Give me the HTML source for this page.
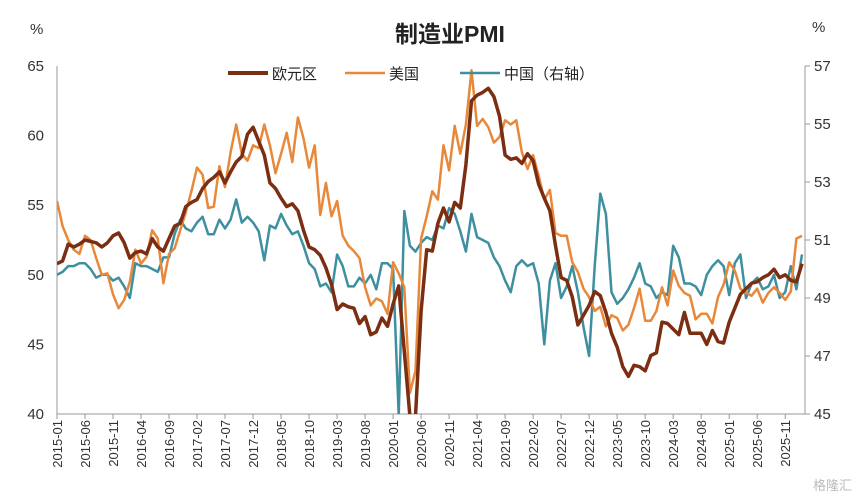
<!DOCTYPE html>
<html><head><meta charset="utf-8">
<style>
html,body{margin:0;padding:0;background:#fff;width:860px;height:498px;overflow:hidden;}
svg{display:block;font-family:"Liberation Sans","Noto Sans CJK SC",sans-serif;}
</style></head>
<body>
<svg id="chart" width="860" height="498" viewBox="0 0 860 498">
<defs><clipPath id="clip"><rect x="57" y="60" width="748" height="354"/></clipPath></defs>
<text x="450" y="42" text-anchor="middle" font-size="23" font-weight="bold" fill="#222">制造业PMI</text>
<text x="30" y="34" font-size="15" fill="#333">%</text>
<text x="812" y="32" font-size="15" fill="#333">%</text>
<g id="axes"></g>
<g id="series" clip-path="url(#clip)"></g>
<g id="legend">
<line x1="228" y1="73" x2="268" y2="73" stroke="#7B2E12" stroke-width="4"/>
<text x="272" y="79" font-size="15" fill="#222">欧元区</text>
<line x1="345" y1="73" x2="385" y2="73" stroke="#E8883A" stroke-width="2.5"/>
<text x="389" y="79" font-size="15" fill="#222">美国</text>
<line x1="460" y1="73" x2="500" y2="73" stroke="#3E8FA0" stroke-width="2.5"/>
<text x="504" y="79" font-size="15" fill="#222">中国（右轴）</text>
</g>
<text x="852" y="490" text-anchor="end" font-size="13" fill="#bbb">格隆汇</text>
</svg>
<script>
const startYear = 2015;
const leftTicks = [40,45,50,55,60,65];
const rightTicks = [45,47,49,51,53,55,57];
const eurozone = [50.8,51.0,52.2,52.0,52.2,52.5,52.4,52.3,52.0,52.3,52.8,53.0,
52.3,51.2,51.6,51.7,51.5,52.6,52.0,51.7,52.6,53.5,53.7,54.9,
55.2,55.4,56.2,56.7,57.0,57.4,56.6,57.4,58.1,58.5,60.1,60.6,
59.6,58.6,56.6,56.2,55.5,54.9,55.1,54.6,53.2,52.0,51.8,51.4,
50.5,49.3,47.5,47.9,47.7,47.6,46.5,47.0,45.7,45.9,46.9,46.3,
47.9,49.2,44.5,33.4,39.4,47.4,51.8,51.7,53.7,54.8,53.8,55.2,
54.8,57.9,62.5,62.9,63.1,63.4,62.8,61.4,58.6,58.3,58.4,58.0,
58.7,58.2,56.5,55.5,54.6,52.1,49.8,49.6,48.4,46.4,47.1,47.8,
48.8,48.5,47.3,45.8,44.8,43.4,42.7,43.5,43.4,43.1,44.2,44.4,
46.6,46.5,46.1,45.7,47.3,45.8,45.8,45.8,45.0,46.0,45.2,45.1,
46.6,47.6,48.6,49.0,49.4,49.5,49.8,50.0,50.4,49.8,50.0,49.6,
49.5,50.8];
const us = [55.3,53.5,52.5,51.8,51.5,52.8,52.5,51.2,50.0,50.1,48.6,47.6,
48.2,49.5,51.8,50.8,51.3,53.2,52.6,49.4,51.5,51.9,53.2,54.5,
56.0,57.7,57.2,54.8,54.9,57.8,56.3,58.8,60.8,58.7,58.2,59.3,
59.1,60.8,59.3,57.3,58.7,60.2,58.1,61.3,59.8,57.7,59.3,54.3,
56.6,54.2,55.3,52.8,52.1,51.7,51.2,49.1,47.8,48.3,48.1,47.2,
50.9,50.1,49.1,41.5,43.1,52.6,54.2,56.0,55.4,59.3,57.5,60.7,
58.7,60.8,64.7,60.7,61.2,60.6,59.5,59.9,61.1,60.8,61.1,58.8,
57.6,58.6,57.1,55.4,56.1,53.0,52.8,52.8,50.9,50.2,49.0,48.4,
47.4,47.7,46.3,47.1,46.9,46.0,46.4,47.6,49.0,46.7,46.7,47.4,
49.1,47.8,50.3,49.2,48.7,48.5,46.8,47.2,47.2,46.5,48.4,49.3,
50.9,50.3,49.0,48.7,48.5,49.0,48.0,48.7,49.1,48.7,48.2,48.8,
52.6,52.8];
const china = [49.8,49.9,50.1,50.1,50.2,50.2,50.0,49.7,49.8,49.8,49.6,49.7,
49.4,49.0,50.2,50.1,50.1,50.0,49.9,50.4,50.4,51.2,51.7,51.4,
51.3,51.6,51.8,51.2,51.2,51.7,51.4,51.7,52.4,51.6,51.8,51.6,
51.3,50.3,51.5,51.4,51.9,51.5,51.2,51.3,50.8,50.2,50.0,49.4,
49.5,49.2,50.5,50.1,49.4,49.4,49.7,49.5,49.8,49.3,50.2,50.2,
50.0,35.7,52.0,50.8,50.6,50.9,51.1,51.0,51.5,51.4,52.1,51.9,
51.3,50.6,51.9,51.1,51.0,50.9,50.4,50.1,49.6,49.2,50.1,50.3,
50.1,50.2,49.5,47.4,49.6,50.2,49.0,49.4,50.1,49.2,48.0,47.0,
50.1,52.6,51.9,49.2,48.8,49.0,49.3,49.7,50.2,49.5,49.4,49.0,
49.2,49.1,50.8,50.4,49.5,49.5,49.4,49.1,49.8,50.1,50.3,50.1,
49.1,50.2,50.5,49.0,49.5,49.7,49.3,49.4,49.8,49.0,49.2,50.1,
49.3,50.5];

const NS = "http://www.w3.org/2000/svg";
const X0 = 57, X1 = 802, YT = 66, YB = 414;
const nPts = eurozone.length;
function xS(i){ return X0 + i * (X1 - X0) / (nPts - 1); }
function clampY(y){ return Math.min(y, YB + 2); }
function yL(v){ return clampY(YB - (v - 40) / 25 * (YB - YT)); }
function yR(v){ return clampY(YB - (v - 45) / 12 * (YB - YT)); }
function mk(tag, attrs, parent){ const e = document.createElementNS(NS, tag); for (const k in attrs) e.setAttribute(k, attrs[k]); parent.appendChild(e); return e; }

const axes = document.getElementById("axes");
const la = mk("line", {x1:X0, y1:YT, x2:X0, y2:YB, stroke:"#999"}, axes);


const ra = mk("line", {x1:805, y1:YT, x2:805, y2:YB, stroke:"#999"}, axes);


const xa = mk("line", {x1:X0, y1:YB, x2:805, y2:YB, stroke:"#999"}, axes);


leftTicks.forEach(v => {
  const t = mk("text", {x:44, y:yL(v)+5, "text-anchor":"end", "font-size":15, fill:"#333"}, axes);
  t.textContent = v;
  
  
});
rightTicks.forEach(v => {
  mk("line", {x1:805, y1:yR(v), x2:810, y2:yR(v), stroke:"#999"}, axes);
  const t = mk("text", {x:814, y:yR(v)+5, "font-size":15, fill:"#333"}, axes);
  t.textContent = v;
  
  
});
for (let i = 0; i < nPts; i += 5) {
  const x = xS(i);
  mk("line", {x1:x, y1:YB, x2:x, y2:YB+5, stroke:"#999"}, axes);
  const y = startYear + Math.floor(i / 12), m = i % 12 + 1;
  const t = mk("text", {x:0, y:0, "text-anchor":"end", "font-size":13, fill:"#333", transform:`translate(${x+5},${YB+6}) rotate(-90)`}, axes);
  t.textContent = y + "-" + String(m).padStart(2, "0");
  
  
}
const sg = document.getElementById("series");
function draw(arr, ys, color, w, name){
  const d = arr.map((v,i) => (i ? "L" : "M") + xS(i).toFixed(1) + "," + ys(v).toFixed(1)).join("");
  const p = mk("path", {d:d, fill:"none", stroke:color, "stroke-width":w, "stroke-linejoin":"round"}, sg);
  
  
}
draw(china, yR, "#3E8FA0", 2.5, "china-line");
draw(us, yL, "#E8883A", 2.5, "us-line");
draw(eurozone, yL, "#7B2E12", 3.5, "eurozone-line");
</script>
</body></html>
